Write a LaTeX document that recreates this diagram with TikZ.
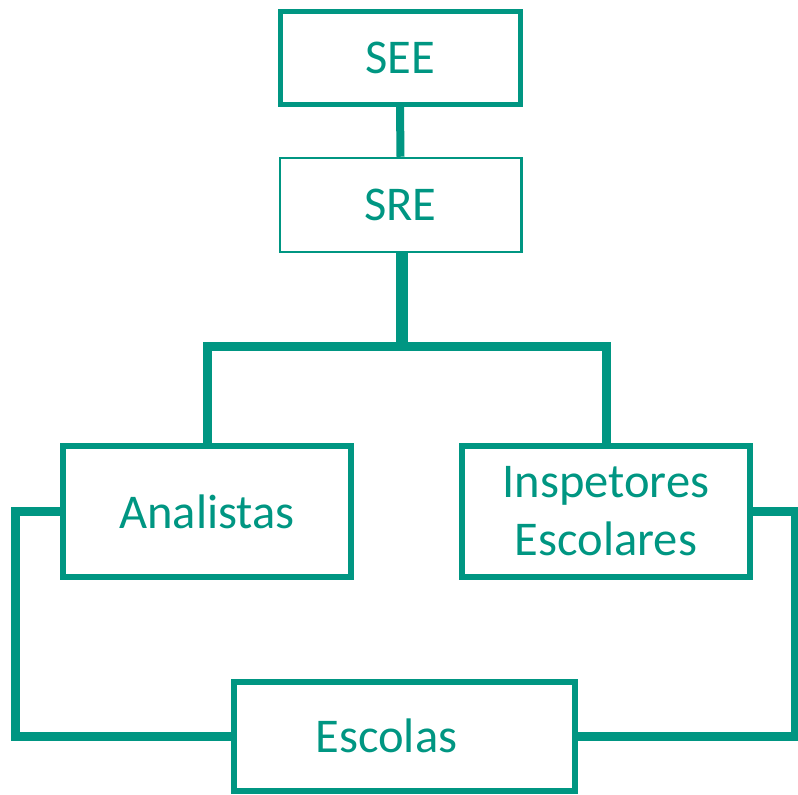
\documentclass[tikz,border=0pt]{standalone}
\usepackage{fontspec}
\setmainfont{Carlito}
\usepackage{tikz}
\usetikzlibrary{positioning,calc}
\definecolor{teal1}{RGB}{0,150,130}

\begin{document}
\begin{tikzpicture}[x=1pt,y=-1pt,
  box/.style={draw=teal1, rectangle, align=center, text=teal1, inner sep=0pt,
    font=\fontsize{48.5}{58}\selectfont},
  link/.style={draw=teal1, line width=9pt}]
\useasboundingbox (0,0) rectangle (798,795);

\draw (400,57.5) node[box, line width=5pt, minimum width=240pt, minimum height=93pt] (nSEE) {SEE};
\draw (400.5,205) node[box, line width=2.5pt, minimum width=241.5pt, minimum height=94pt] (nSRE) {SRE};
\draw (207,511.5) node[box, line width=6pt, minimum width=288pt, minimum height=131pt] (nAna) {Analistas};
\draw (606,511.5) node[box, line width=6pt, minimum width=288pt, minimum height=131pt] (nInsp) {Inspetores\\Escolares};
\draw (404.5,736) node[box, line width=6pt, minimum width=341pt, minimum height=109pt] (nEsc) {Escolas\hspace{36pt}};

\coordinate (jMid) at (402,346.5);
\coordinate (jLeft) at (15.5,620);
\coordinate (jRight) at (795,620);

\draw[link, line width=8pt] (nSEE.south) -- (nSRE.north);
\draw[link, line width=12pt] (nSRE.south -| jMid) -- ([yshift=4.5pt]jMid);
\draw[link] (nAna.north) |- (jMid) -| (nInsp.north);

\draw[link] (nAna.west) -| (jLeft) |- (nEsc.west);
\draw[link] (nInsp.east) -| (jRight) |- (nEsc.east);

\end{tikzpicture}
\end{document}
